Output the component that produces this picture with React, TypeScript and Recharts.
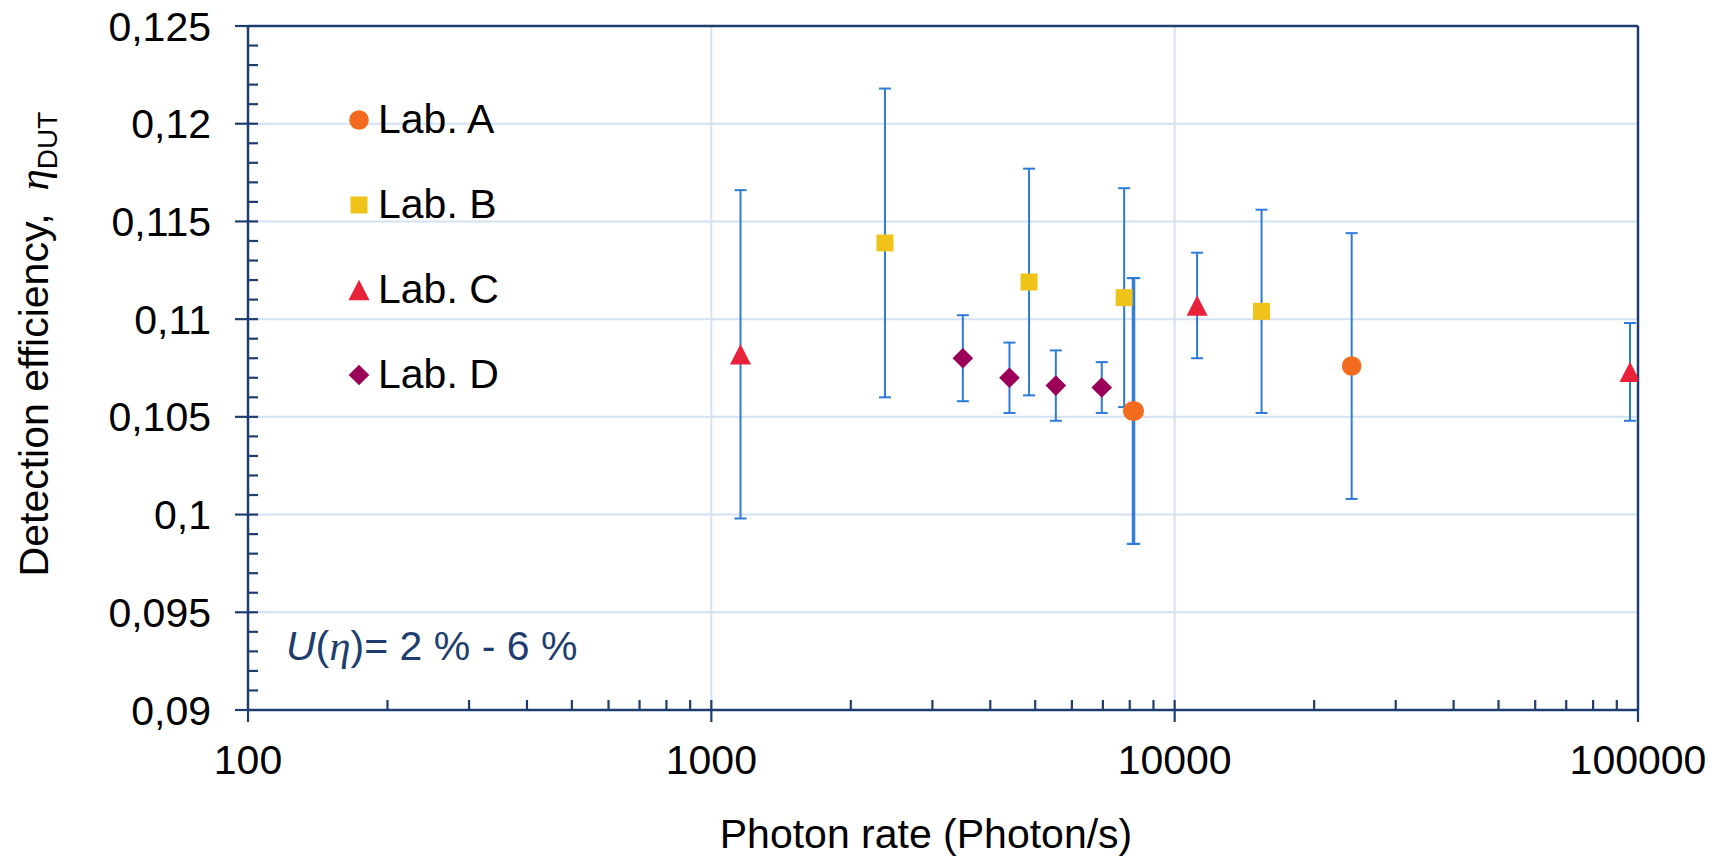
import React from 'react';
import {
  ScatterChart,
  Scatter,
  XAxis,
  YAxis,
  CartesianGrid,
  ErrorBar,
  ReferenceLine,
  Legend,
  Customized,
} from 'recharts';

// ---------- data ----------
const labA = [
  { x: 8120, y: 0.1053, e: 0.0068 },
  { x: 8180, y: 0.1053, e: 0.0068 },
  { x: 24100, y: 0.1076, e: 0.0068 },
];
const labB = [
  { x: 2370, y: 0.1139, e: 0.0079 },
  { x: 4850, y: 0.1119, e: 0.0058 },
  { x: 7780, y: 0.1111, e: 0.0056 },
  { x: 15400, y: 0.1104, e: 0.0052 },
];
const labC = [
  { x: 1156, y: 0.1082, e: 0.0084 },
  { x: 11180, y: 0.1107, e: 0.0027 },
  { x: 96100, y: 0.1073, e: 0.0025 },
];
const labD = [
  { x: 3490, y: 0.108, e: 0.0022 },
  { x: 4400, y: 0.107, e: 0.0018 },
  { x: 5540, y: 0.1066, e: 0.0018 },
  { x: 6960, y: 0.1065, e: 0.0013 },
];

const xTicks = [100, 1000, 10000, 100000];
const yTicks = [0.09, 0.095, 0.1, 0.105, 0.11, 0.115, 0.12, 0.125];
const xMinorBases = [100, 1000, 10000];
const xMinorMult = [2, 3, 4, 5, 6, 7, 8, 9];

const xInner: number[] = [];
xMinorBases.forEach((b) => xMinorMult.forEach((m) => xInner.push(b * m)));
xInner.push(1000, 10000);
const yInner: number[] = [];
for (let i = 91; i <= 124; i++) yInner.push(i / 1000);

// ---------- style ----------
const FONT = '"Liberation Sans", Arial, sans-serif';
const SERIF = '"Liberation Serif", "Times New Roman", serif';
const NAVY = '#1F3E70';
const GRID = '#D2E1F4';
const ERR = '#2E7AD9';
const C_A = '#F26B1F';
const C_B = '#EFC319';
const C_C = '#E8223A';
const C_D = '#9B0058';

const circleShape = (p: any) => <circle cx={p.cx} cy={p.cy} r={9.8} fill={C_A} />;
const squareShape = (p: any) => <rect x={p.cx - 8.5} y={p.cy - 8.5} width={17} height={17} fill={C_B} />;
const triShape = (p: any) => (
  <path d={`M${p.cx},${p.cy - 10.2} L${p.cx + 10.5},${p.cy + 10.2} L${p.cx - 10.5},${p.cy + 10.2} Z`} fill={C_C} />
);
const diamondShape = (p: any) => (
  <path d={`M${p.cx},${p.cy - 10.3} L${p.cx + 10.3},${p.cy} L${p.cx},${p.cy + 10.3} L${p.cx - 10.3},${p.cy} Z`} fill={C_D} />
);

const legendIcon = (type: string) => {
  const p = { cx: 11, cy: 11 };
  if (type === 'circle') return circleShape(p);
  if (type === 'square') return squareShape(p);
  if (type === 'triangle') return triShape(p);
  return diamondShape(p);
};

const LegendContent = (props: any) => {
  const payload = props.payload || [];
  return (
    <div style={{ fontFamily: FONT, fontSize: 41 }}>
      {payload.map((p: any) => (
        <div key={p.value} style={{ display: 'flex', alignItems: 'center', height: 85 }}>
          <svg width={22} height={22} style={{ display: 'block', overflow: 'visible' }}>
            {legendIcon(p.type)}
          </svg>
          <span style={{ marginLeft: 8, color: '#000', lineHeight: 1, whiteSpace: 'pre' }}>{p.value}</span>
        </div>
      ))}
    </div>
  );
};

const innerYTick = (p: any) => {
  const x0 = Math.min(p.x1, p.x2);
  return <line x1={x0} y1={p.y1} x2={x0 + 10} y2={p.y1} stroke={NAVY} strokeWidth={2.2} />;
};
const innerXTick = (p: any) => {
  const y0 = Math.max(p.y1, p.y2);
  return <line x1={p.x1} y1={y0} x2={p.x1} y2={y0 - 10} stroke={NAVY} strokeWidth={2.2} />;
};

const YTitle = (props: any) => {
  const vb = props.viewBox || { x: 0, y: 26, width: 248, height: 684 };
  const cx = vb.x + 48;
  const cy = vb.y + vb.height / 2 - 24;
  return (
    <text
      transform={`translate(${cx},${cy}) rotate(-90)`}
      textAnchor="middle"
      fontFamily={FONT}
      fontSize={41}
      fill="#000"
      style={{ whiteSpace: 'pre' }}
    >
      {'Detection efficiency,\u00A0\u00A0'}
      <tspan fontFamily={SERIF} fontStyle="italic" fontSize={43}>η</tspan>
      <tspan fontSize={28} dy={9}>DUT</tspan>
    </text>
  );
};

const XTitle = (props: any) => {
  const vb = props.viewBox || { x: 248, y: 710, width: 1390, height: 146 };
  return (
    <text x={vb.x + 678} y={vb.y + 138} textAnchor="middle" fontFamily={FONT} fontSize={41} fill="#000">
      Photon rate (Photon/s)
    </text>
  );
};

const Annotation = () => (
  <text x={286} y={660} fontFamily={FONT} fontSize={41} fill={NAVY} style={{ whiteSpace: 'pre' }}>
    <tspan fontStyle="italic">U</tspan>
    <tspan>(</tspan>
    <tspan fontFamily={SERIF} fontStyle="italic" fontSize={43}>η</tspan>
    <tspan>{')= 2 % - 6 %'}</tspan>
  </text>
);

const fmtY = (v: number) => String(v).replace('.', ',');

export default function App() {
  return (
    <div style={{ position: 'absolute', left: 0, top: 0, background: '#fff' }}>
      <ScatterChart width={1725} height={856} margin={{ top: 26, right: 87, bottom: 0, left: 0 }}>
        <CartesianGrid stroke={GRID} strokeWidth={2} />
        <XAxis
          type="number"
          dataKey="x"
          scale="log"
          domain={[100, 100000]}
          ticks={xTicks}
          allowDataOverflow
          height={146}
          stroke={NAVY}
          strokeWidth={2.5}
          tickSize={12}
          tickMargin={23}
          tickLine={{ stroke: NAVY, strokeWidth: 2.2 }}
          tick={{ fill: '#000', fontSize: 41, fontFamily: FONT }}
          tickFormatter={(v: number) => String(v)}
          interval={0}
          label={{ content: XTitle }}
        />
        <YAxis
          type="number"
          dataKey="y"
          domain={[0.09, 0.125]}
          ticks={yTicks}
          allowDataOverflow
          width={248}
          stroke={NAVY}
          strokeWidth={2.5}
          tickSize={13}
          tickMargin={24}
          tickLine={{ stroke: NAVY, strokeWidth: 2.2 }}
          tick={{ fill: '#000', fontSize: 41, fontFamily: FONT }}
          tickFormatter={fmtY}
          interval={0}
          label={{ content: YTitle }}
        />
        {yInner.map((v) => (
          <ReferenceLine key={'yi' + v} y={v} shape={innerYTick} />
        ))}
        {xInner.map((v) => (
          <ReferenceLine key={'xi' + v} x={v} shape={innerXTick} />
        ))}
        <ReferenceLine y={0.125} stroke={NAVY} strokeWidth={2.5} />
        <ReferenceLine x={100000} stroke={NAVY} strokeWidth={2.5} />
        <Legend
          layout="vertical"
          align="center"
          verticalAlign="middle"
          content={LegendContent}
          wrapperStyle={{ position: 'absolute', left: 348, top: 77, width: 'auto', height: 'auto' }}
        />
        <Scatter name="Lab. A" data={labA} fill={C_A} legendType="circle" shape={circleShape} isAnimationActive={false}>
          <ErrorBar dataKey="e" direction="y" width={6} stroke={ERR} strokeWidth={2} />
        </Scatter>
        <Scatter name="Lab. B" data={labB} fill={C_B} legendType="square" shape={squareShape} isAnimationActive={false}>
          <ErrorBar dataKey="e" direction="y" width={6} stroke={ERR} strokeWidth={2} />
        </Scatter>
        <Scatter name="Lab. C" data={labC} fill={C_C} legendType="triangle" shape={triShape} isAnimationActive={false}>
          <ErrorBar dataKey="e" direction="y" width={6} stroke={ERR} strokeWidth={2} />
        </Scatter>
        <Scatter name="Lab. D" data={labD} fill={C_D} legendType="diamond" shape={diamondShape} isAnimationActive={false}>
          <ErrorBar dataKey="e" direction="y" width={6} stroke={ERR} strokeWidth={2} />
        </Scatter>
        <Customized component={Annotation} />
      </ScatterChart>
    </div>
  );
}
